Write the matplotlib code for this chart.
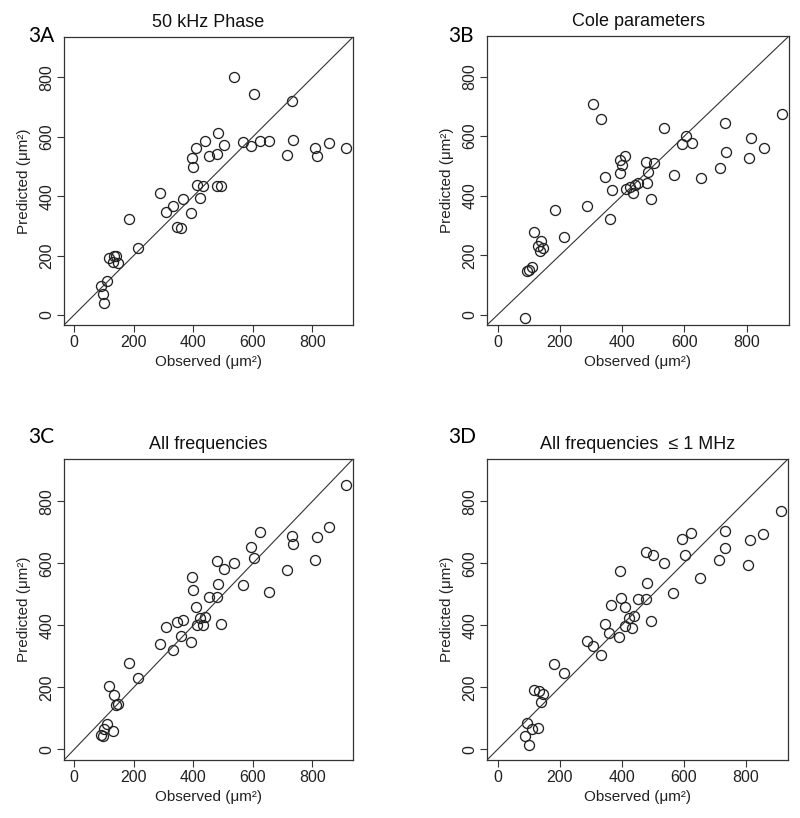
import matplotlib.pyplot as plt

# observed areas (um^2), shared by all four panels
observed = [89, 96, 101, 111, 116, 131, 135, 141, 147, 183, 213, 287, 308, 333, 345,
            360, 367, 392, 394, 399, 410, 412, 424, 434, 440, 452, 478, 480, 483, 493,
            502, 535, 567, 593, 604, 623, 653, 715, 732, 734, 808, 814, 856, 912]

# predicted areas per model
pred_phase50 = [98, 69, 41, 115, 191, 177, 197, 199, 176, 324, 224, 412, 347, 366, 295,
                292, 390, 343, 529, 497, 563, 436, 395, 433, 585, 535, 433, 541, 612, 433,
                573, 800, 583, 570, 744, 587, 587, 539, 720, 588, 562, 535, 578, 562]
pred_cole = [-9, 147, 152, 161, 278, 232, 216, 249, 224, 353, 261, 366, 707, 658, 462,
             322, 419, 477, 520, 503, 532, 421, 430, 410, 436, 441, 513, 444, 480, 389,
             511, 626, 468, 574, 599, 577, 460, 494, 644, 546, 528, 593, 561, 673]
pred_allfreq = [45, 43, 65, 83, 204, 61, 175, 144, 147, 279, 230, 340, 394, 320, 411,
                366, 418, 345, 557, 514, 458, 401, 423, 401, 426, 491, 491, 608, 532, 405,
                583, 602, 529, 654, 616, 701, 506, 577, 687, 663, 610, 686, 717, 853]
pred_1mhz = [43, 84, 14, 65, 190, 68, 187, 153, 180, 274, 247, 351, 334, 305, 403,
             374, 466, 363, 574, 488, 460, 397, 422, 390, 430, 485, 484, 637, 538, 413,
             627, 602, 503, 677, 627, 697, 551, 610, 704, 649, 595, 675, 694, 770]

titles = ["50 kHz Phase", "Cole parameters", "All frequencies", "All frequencies  \u2264 1 MHz"]
tags = ["3A", "3B", "3C", "3D"]
ticks = [0, 200, 400, 600, 800]

W, H = 800, 818
fig = plt.figure(figsize=(W / 100, H / 100), dpi=100)
font = ['Liberation Sans', 'DejaVu Sans']

# axes boxes in pixels: left, right, top, bottom
boxes = [(64, 353, 37, 325), (487, 789, 36, 325), (64, 353, 459, 760), (487, 788, 459, 760)]
tag_pos = [(28, 42), (448, 42), (28, 443), (448, 443)]
series = [pred_phase50, pred_cole, pred_allfreq, pred_1mhz]

for i in range(4):
    l, r, t, b = boxes[i]
    ax = fig.add_axes([l / W, 1 - b / H, (r - l) / W, (b - t) / H])
    ax.plot(observed, series[i], 'o', ms=7.2, mfc='none', mec='#222222', mew=0.95)
    ax.axline((0, 0), slope=1, color='#333333', lw=0.8)
    ax.set_xlim(-34, 936)
    ax.set_ylim(-34, 936)
    ax.set_xticks(ticks)
    ax.set_yticks(ticks)
    ax.tick_params(direction='out', length=5, width=0.8, color='#333333', pad=2,
                   labelsize=11.5, labelcolor='#222222')
    for lab in ax.get_yticklabels():
        lab.set_rotation(90)
        lab.set_va('center')
        lab.set_family(font)
    for lab in ax.get_xticklabels():
        lab.set_family(font)
    for s in ax.spines.values():
        s.set_color('#333333')
        s.set_linewidth(0.9)
    ax.set_title(titles[i], fontsize=13, family=font, pad=7, color='#111111')
    ax.set_xlabel("Observed (\u03bcm\u00b2)", fontsize=11, family=font, labelpad=4, color='#222222')
    ax.set_ylabel("Predicted (\u03bcm\u00b2)", fontsize=11, family=font, labelpad=6, color='#222222')
    fig.text(tag_pos[i][0] / W, 1 - tag_pos[i][1] / H, tags[i], fontsize=15,
             family='Lato', ha='left', va='baseline')

plt.savefig('out.png', dpi=100)
